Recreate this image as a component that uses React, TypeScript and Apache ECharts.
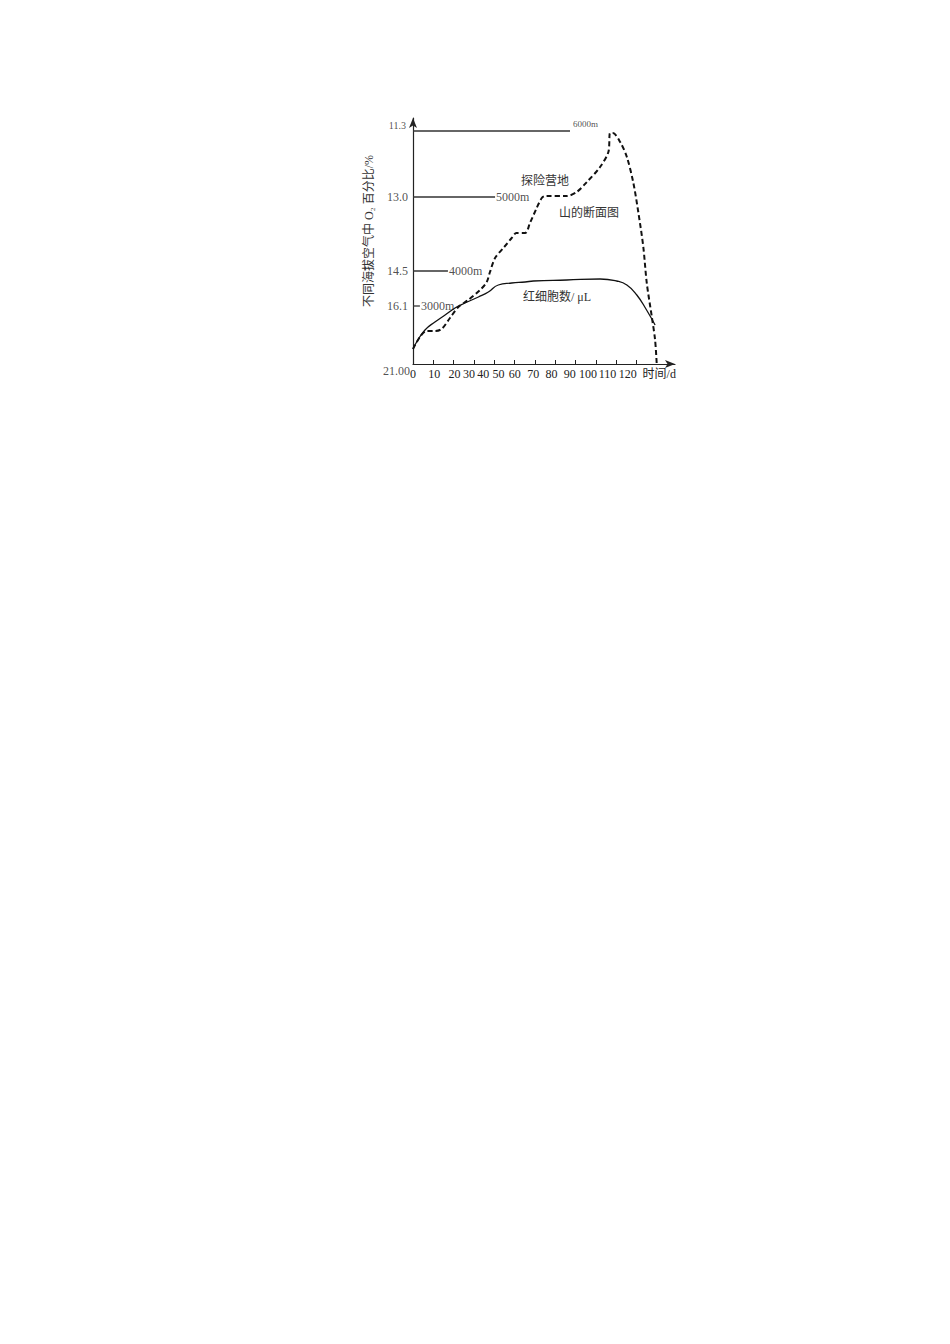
import React, { useEffect, useRef } from 'react';
import * as echarts from 'echarts';

// x: days, y: relative height on the schematic O2 scale (0 = 21.00 at sea level)
const xTickValues = [0, 10, 20, 30, 40, 50, 60, 70, 80, 90, 100, 110, 120];
// the printed tick labels drift left of their ticks in the original figure
const xLabelShift = [0, 1, 1, -5, -11, -16, -20, -22, -24, -26, -28, -29, -29];

const levelHeights = [233, 167, 93, 58];
const levelEnds = [77.3, 40.4, 17.2, 3.4];
const levelO2 = ['11.3', '13.0', '14.5', '16.1'];
const levelAltitude = ['6000m', '5000m', '4000m', '3000m'];
const baseO2 = '21.00';

const profileDays = [
  0, 3.4, 6.7, 10.8, 14.1, 18.2, 22.3, 27.2, 33, 36.3, 37.9, 40.4, 44.5, 48.6, 50.9, 55.2, 57.6, 60.9,
  63.4, 65, 75.7, 80.6, 85.6, 92.1, 96.2, 97, 98.4, 102, 105.3, 108.5, 111, 113.4, 115.1, 117.6, 119.2, 120,
];
const profileHeight = [
  15, 27, 33, 33, 35, 46, 57, 64, 74, 82, 92, 106, 116, 126, 131, 131, 141, 156, 166, 168, 168, 172, 182,
  197, 212, 231, 231, 222, 207, 181, 151, 117, 81, 47, 24, 0,
];

const rbcDays = [0, 1.8, 5.9, 10.8, 15.8, 20.7, 25.6, 32.2, 37.1, 42, 48.6, 55.2, 59.3, 75.7, 92.1, 100.3, 105.3, 110.2, 115, 119.2];
const rbcLevel = [15, 22, 34, 42, 49, 56, 61, 67, 72, 79, 81, 82, 83, 84, 85, 83, 79, 69, 54, 39];

const FONT = "'Liberation Serif', 'Noto Sans CJK SC', serif";
const INK = '#222';

const App: React.FC = () => {
  const chartRef = useRef<HTMLDivElement>(null);

  useEffect(() => {
    if (!chartRef.current) return;
    const chart = echarts.init(chartRef.current, null, { renderer: 'svg' });

    const rich: Record<string, object> = {};
    xTickValues.forEach((v, i) => {
      const s = xLabelShift[i];
      rich['s' + v] = {
        fontSize: 12,
        color: INK,
        fontFamily: FONT,
        padding: s < 0 ? [0, -2 * s, 0, 0] : [0, 0, 0, 2 * s],
      };
    });

    const levelSeries = levelHeights.map((h, i) => ({
      type: 'line',
      silent: true,
      symbol: 'none',
      clip: false,
      lineStyle: { color: '#333', width: 1.3 },
      data: [
        [0, h],
        [levelEnds[i], h],
      ],
    }));

    const altitudeLabels = levelHeights.map((h, i) => ({
      value: [levelEnds[i], h],
      label: {
        show: true,
        position: 'right',
        distance: i === 0 ? 3 : 1,
        formatter: levelAltitude[i],
        color: INK,
        fontFamily: FONT,
        fontSize: i === 0 ? 9 : 12,
        offset: i === 0 ? [0, -7] : [0, 0],
      },
    }));

    const o2Labels = [...levelHeights, 0].map((h, i) => ({
      value: [0, h],
      label: {
        show: true,
        position: 'left',
        distance: 5,
        formatter: i < levelO2.length ? levelO2[i] : baseO2,
        color: INK,
        fontFamily: FONT,
        fontSize: i === 0 ? 10 : 12,
        offset: i === 0 ? [-2, -6] : i === levelO2.length ? [2, 7] : [0, 0],
      },
    }));

    chart.setOption({
      animation: false,
      textStyle: { fontFamily: FONT },
      grid: { left: 405, top: 110, width: 262, height: 246 },
      xAxis: {
        type: 'value',
        min: 0,
        max: 129,
        interval: 10,
        name: '时间/d',
        nameLocation: 'end',
        nameGap: 0,
        nameTextStyle: {
          color: INK,
          fontSize: 12,
          fontFamily: FONT,
          align: 'right',
          verticalAlign: 'top',
          padding: [4, 0, 0, 0],
        },
        splitLine: { show: false },
        axisLine: { lineStyle: { color: INK, width: 1.2 }, symbol: ['none', 'arrow'], symbolSize: [6, 10] },
        axisTick: { inside: true, length: 4, lineStyle: { color: INK }, customValues: xTickValues.slice(0, 12) },
        axisLabel: {
          margin: 4,
          customValues: xTickValues,
          formatter: (v: number) => `{s${v}|${v}}`,
          rich,
        },
      },
      yAxis: {
        type: 'value',
        min: 0,
        max: 246,
        splitLine: { show: false },
        axisLine: { show: true, lineStyle: { color: INK, width: 1.2 }, symbol: ['none', 'arrow'], symbolSize: [6, 10] },
        axisTick: { show: false },
        axisLabel: { show: false },
      },
      graphic: [
        {
          type: 'text',
          x: 361,
          y: 223,
          rotation: Math.PI / 2,
          style: { text: '不同海拔空气中 O₂ 百分比/%', fontSize: 12, fill: '#333', fontFamily: FONT, align: 'center', verticalAlign: 'middle' },
        },
        { type: 'text', x: 537, y: 173, style: { text: '探险营地', fontSize: 12, fill: '#333', fontFamily: FONT, align: 'center', verticalAlign: 'middle' } },
        { type: 'text', x: 581, y: 205, style: { text: '山的断面图', fontSize: 12, fill: '#333', fontFamily: FONT, align: 'center', verticalAlign: 'middle' } },
        { type: 'text', x: 549, y: 289, style: { text: '红细胞数/ μL', fontSize: 12, fill: '#333', fontFamily: FONT, align: 'center', verticalAlign: 'middle' } },
      ],
      series: [
        ...levelSeries,
        {
          type: 'scatter',
          silent: true,
          symbolSize: 0,
          itemStyle: { color: INK },
          data: [...o2Labels, ...altitudeLabels],
          label: { color: INK, fontSize: 12, fontFamily: FONT },
        },
        {
          name: '山的断面图',
          type: 'line',
          symbol: 'none',
          smooth: 0.3,
          clip: false,
          lineStyle: { color: '#111', width: 2, type: [5, 3] },
          data: profileDays.map((d, i) => [d, profileHeight[i]]),
        },
        {
          name: '红细胞数',
          type: 'line',
          symbol: 'none',
          smooth: 0.5,
          clip: false,
          lineStyle: { color: '#111', width: 1.3 },
          data: rbcDays.map((d, i) => [d, rbcLevel[i]]),
        },
      ],
    });

    return () => {
      chart.dispose();
    };
  }, []);

  return <div ref={chartRef} style={{ width: '100%', height: '400px' }} />;
};

export default App;
